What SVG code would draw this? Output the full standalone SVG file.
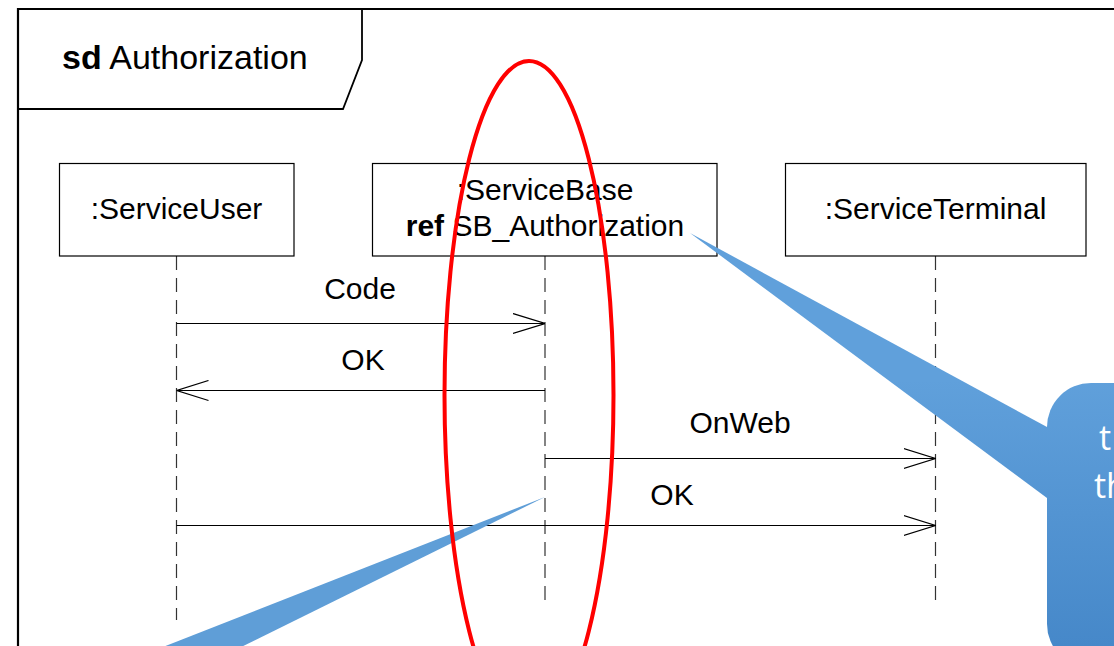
<svg xmlns="http://www.w3.org/2000/svg" width="1114" height="646" viewBox="0 0 1114 646">
<style>
.t{font-family:"Liberation Sans",Arial,sans-serif;font-size:30px;fill:#000}
.b{font-weight:bold}
.box{fill:#fff;stroke:#000;stroke-width:1.2}
.life{stroke:#333;stroke-width:1.2;stroke-dasharray:14 8;fill:none}
.msg{stroke:#000;stroke-width:1.2;fill:none}
.call{font-family:"Open Sans","Noto Sans",sans-serif;font-size:34px;fill:#fff}
</style>
<defs>
<marker id="open" viewBox="0 0 32 22" refX="32" refY="11" markerWidth="32" markerHeight="22" markerUnits="userSpaceOnUse" orient="auto">
<path d="M0,1 L32,11 L0,21" fill="none" stroke="#000" stroke-width="1.2"/>
</marker>
<linearGradient id="blue" gradientUnits="userSpaceOnUse" x1="0" y1="380" x2="0" y2="646">
<stop offset="0" stop-color="#60a0db"/>
<stop offset="1" stop-color="#4688c9"/>
</linearGradient>
</defs>
<rect width="1114" height="646" fill="#fff"/>
<g id="frame">
<path d="M18,646 L18,9 L1114,9" fill="none" stroke="#000" stroke-width="2.2"/>
<path d="M18,109 L343,109 L362,60 L362,9" fill="none" stroke="#000" stroke-width="1.8"/>
<text x="62" y="69" class="t" style="font-size:34px"><tspan class="b">sd</tspan> Authorization</text>
</g>
<g id="connectors">
<line class="life" x1="176.5" y1="256" x2="176.5" y2="620"/>
<line class="life" x1="545" y1="256" x2="545" y2="606"/>
<line class="life" x1="935.5" y1="256" x2="935.5" y2="601"/>
<line class="msg" x1="176.5" y1="323.5" x2="545" y2="323.5" marker-end="url(#open)"/>
<text class="t" x="360" y="299" text-anchor="middle">Code</text>
<line class="msg" x1="545" y1="390.5" x2="176.5" y2="390.5" marker-end="url(#open)"/>
<text class="t" x="363" y="370" text-anchor="middle">OK</text>
<line class="msg" x1="545" y1="458.5" x2="935.5" y2="458.5" marker-end="url(#open)"/>
<text class="t" x="740" y="433" text-anchor="middle">OnWeb</text>
<line class="msg" x1="176.5" y1="525.5" x2="935.5" y2="525.5" marker-end="url(#open)"/>
<text class="t" x="672" y="505" text-anchor="middle">OK</text>
</g>
<g id="serviceUser">
<rect class="box" x="59.5" y="163.5" width="234.5" height="92.5"/>
<text class="t" x="176.5" y="219" text-anchor="middle">:ServiceUser</text>
</g>
<g id="serviceBase">
<rect class="box" x="372.5" y="163.5" width="344.5" height="92.5"/>
<text class="t" x="545" y="200" text-anchor="middle">:ServiceBase</text>
<text class="t" x="545" y="236" text-anchor="middle"><tspan class="b">ref</tspan> SB_Authorization</text>
</g>
<g id="serviceTerminal">
<rect class="box" x="785.5" y="163.5" width="300.5" height="92.5"/>
<text class="t" x="935.5" y="219" text-anchor="middle">:ServiceTerminal</text>
</g>
<g id="callout1">
<path d="M690,233 L1047,427 L1047,498 Z" fill="url(#blue)"/>
<rect x="1047" y="383" width="220" height="285" rx="44" ry="44" fill="url(#blue)"/>
<text class="call" x="1099" y="450">t</text>
<text class="call" x="1094" y="498">th</text>
</g>
<g id="callout2">
<path d="M545,497 L140,656 L223,656 Z" fill="#5f9ed7"/>
</g>
<g id="highlight">
<ellipse cx="529" cy="395" rx="84.5" ry="334" fill="none" stroke="#f00" stroke-width="4"/>
</g>
</svg>
